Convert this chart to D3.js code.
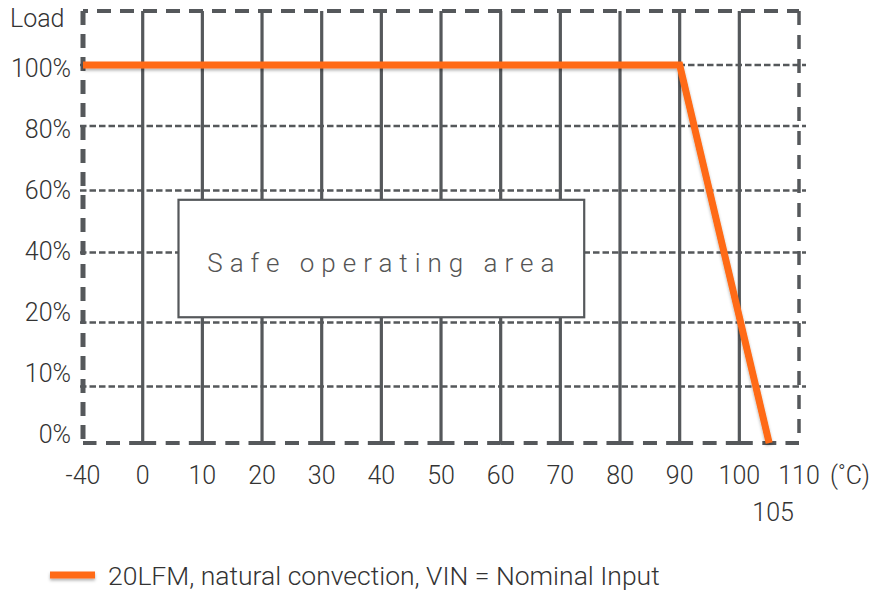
<!DOCTYPE html>
<html>
<head>
<meta charset="utf-8">
<script src="https://cdn.jsdelivr.net/npm/d3@7"></script>
<style>
  body { margin: 0; background: #fff; }
  text { font-family: Roboto, "Noto Sans", sans-serif; fill: #333; }
</style>
</head>
<body>
<div id="chart"></div>
<script>
// temperature ticks (x) and load ticks (y)
const xTicks = [-40, 0, 10, 20, 30, 40, 50, 60, 70, 80, 90, 100, 110];
const yTicks = [0, 10, 20, 40, 60, 80, 100];
const yLabels = ["0%", "10%", "20%", "40%", "60%", "80%", "100%"];
// derating curve
const tempC = [-40, 90, 105];
const loadPct = [100, 100, 0];
const seriesName = "20LFM, natural convection, VIN = Nominal Input";
const extraTick = 105;
// annotation box, in data units
const safeTemp = [6, 74];
const safeLoad = [21.5, 57];

const W = 877, H = 593;
const margin = { left: 83, top: 11 };
const pw = 716, ph = 432;
const grey = "#55585b", orange = "#ff6a13";

const svg = d3.select("#chart").append("svg").attr("width", W).attr("height", H);
const defs = svg.append("defs");
const f = defs.append("filter").attr("id", "shadow")
  .attr("filterUnits", "userSpaceOnUse")
  .attr("x", -100).attr("y", -100).attr("width", W + 200).attr("height", H + 200);
f.append("feDropShadow").attr("dx", 0).attr("dy", 2).attr("stdDeviation", 1.6).attr("flood-color", "#000").attr("flood-opacity", 0.3);

const g = svg.append("g").attr("transform", `translate(${margin.left},${margin.top})`);

// axis break between -40 and 0, so piecewise scales
const x = d3.scaleLinear().domain([-40, 0, 110]).range([0, 59.7, pw]);
const y = d3.scaleLinear().domain(yTicks).range([432, 375.5, 311.5, 241.5, 179.5, 115, 54]);
// tick labels sit on an even grid
const yLab = d3.scalePoint().domain(yTicks).range([432, 66]);

// vertical grid lines
g.selectAll("line.vg")
  .data(xTicks.filter(d => d > -40 && d < 110))
  .enter().append("line")
  .attr("class", "vg")
  .attr("x1", d => x(d)).attr("x2", d => x(d))
  .attr("y1", 0).attr("y2", ph)
  .attr("stroke", grey).attr("stroke-width", 3.2);

// horizontal dashed grid lines
g.selectAll("line.hg")
  .data(yTicks.filter(d => d > 0))
  .enter().append("line")
  .attr("class", "hg")
  .attr("x1", -3).attr("x2", pw + 7)
  .attr("y1", d => y(d)).attr("y2", d => y(d))
  .attr("stroke", grey).attr("stroke-width", 2.6)
  .attr("stroke-dasharray", "6.5,3");

// dashed frame
const step = x(10) - x(0);
g.append("line").attr("x1", 0).attr("x2", pw).attr("y1", 0).attr("y2", 0)
  .attr("stroke", grey).attr("stroke-width", 4).attr("stroke-dasharray", "14,9").attr("stroke-dashoffset", -14);
g.append("line").attr("x1", 0).attr("x2", 0).attr("y1", 0).attr("y2", ph)
  .attr("stroke", grey).attr("stroke-width", 5).attr("stroke-dasharray", "14,9");
g.append("line").attr("x1", pw).attr("x2", pw).attr("y1", 0).attr("y2", ph)
  .attr("stroke", grey).attr("stroke-width", 3.5).attr("stroke-dasharray", "14,10");
g.append("line").attr("x1", 0).attr("x2", pw).attr("y1", ph).attr("y2", ph)
  .attr("stroke", grey).attr("stroke-width", 4)
  .attr("stroke-dasharray", [13.5, 9.5, 14, step - 50.5, 13.5, 0].join(","));

// safe operating area box
g.append("rect")
  .attr("x", x(safeTemp[0])).attr("y", y(safeLoad[1]))
  .attr("width", x(safeTemp[1]) - x(safeTemp[0]))
  .attr("height", y(safeLoad[0]) - y(safeLoad[1]))
  .attr("fill", "#fff").attr("stroke", grey).attr("stroke-width", 2.2);
g.append("text")
  .attr("x", (x(safeTemp[0]) + x(safeTemp[1])) / 2 + 3)
  .attr("y", (y(safeLoad[0]) + y(safeLoad[1])) / 2 + 13)
  .attr("text-anchor", "middle")
  .style("font-size", "26px").style("font-weight", 300)
  .style("letter-spacing", "7px").style("fill", "#555")
  .text("Safe operating area");

// derating line
const pts = tempC.map((t, i) => [t, loadPct[i]]);
g.append("path")
  .attr("d", d3.line().x(d => x(d[0])).y(d => y(d[1]))(pts))
  .attr("fill", "none").attr("stroke", orange).attr("stroke-width", 7)
  .attr("filter", "url(#shadow)");

// x tick labels
const fs = "25px";
g.selectAll("text.xt")
  .data(xTicks)
  .enter().append("text")
  .attr("class", "xt")
  .attr("x", d => x(d))
  .attr("y", 473)
  .attr("text-anchor", "middle")
  .style("font-size", fs).style("font-weight", 300)
  .text(d => d);
g.append("text").attr("x", x(110) + 51).attr("y", 473).attr("text-anchor", "middle")
  .style("font-size", fs).style("font-weight", 300).text("(˚C)");
g.append("text").attr("x", x(extraTick) + 4).attr("y", 510).attr("text-anchor", "middle")
  .style("font-size", fs).style("font-weight", 300).text(extraTick);

// y tick labels
g.selectAll("text.yt")
  .data(yTicks)
  .enter().append("text")
  .attr("class", "yt")
  .attr("x", -12)
  .attr("y", d => yLab(d))
  .attr("text-anchor", "end")
  .style("font-size", fs).style("font-weight", 300)
  .text((d, i) => yLabels[i]);
svg.append("text").attr("x", 10).attr("y", 27)
  .style("font-size", fs).style("font-weight", 300).text("Load");

// legend
const lg = svg.append("g").attr("transform", "translate(50,575)");
lg.append("line").attr("x1", 0).attr("x2", 45).attr("y1", 0).attr("y2", 0)
  .attr("stroke", orange).attr("stroke-width", 7).attr("filter", "url(#shadow)");
lg.append("text").attr("x", 58).attr("y", 10)
  .style("font-size", "26.5px").style("font-weight", 300).text(seriesName);
</script>
</body>
</html>
